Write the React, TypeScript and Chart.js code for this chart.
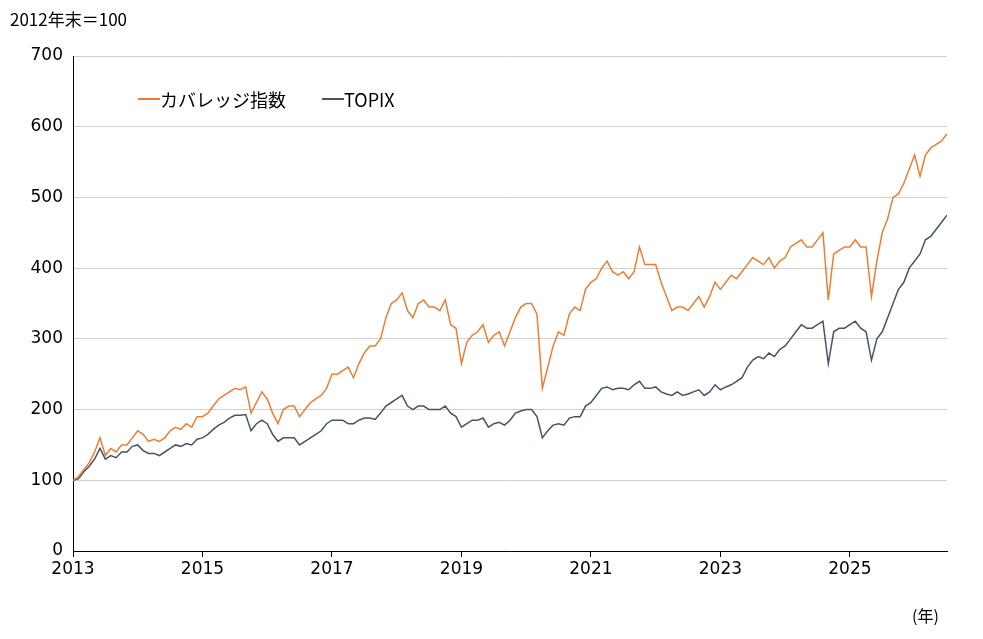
import React, { useEffect, useRef } from "react";
import { Chart, registerables } from "chart.js";
Chart.register(...registerables);

const leverage = [
105,115,125,140,160,135,145,140,150,150,160,170,
165,155,158,155,160,170,175,172,180,175,190,190,
195,205,215,220,225,230,228,232,195,210,225,215,
195,180,200,205,205,190,200,210,215,220,230,250,
250,255,260,245,265,280,290,290,300,330,350,355,
365,340,330,350,355,345,345,340,355,320,315,265,
295,305,310,320,295,305,310,290,310,330,345,350,
350,335,230,260,290,310,305,335,345,340,370,380,
385,400,410,395,390,395,385,395,430,405,405,405,
380,360,340,345,345,340,350,360,345,360,380,370,
380,390,385,395,405,415,410,405,415,400,410,415,
430,435,440,430,430,440,450,355,420,425,430,430,
440,430,430,360,410,450,470,500,505,520,540,560,
530,560,570,575,580,590];
const topix = [
102,112,120,130,145,130,135,132,140,140,148,150,
142,138,138,135,140,145,150,148,152,150,158,160,
165,172,178,182,188,192,192,193,170,180,185,180,
165,155,160,160,160,150,155,160,165,170,180,185,
185,185,180,180,185,188,188,186,195,205,210,215,
220,205,200,205,205,200,200,200,205,195,190,175,
180,185,185,188,175,180,182,178,185,195,198,200,
200,190,160,170,178,180,178,188,190,190,205,210,
220,230,232,228,230,230,228,235,240,230,230,232,
225,222,220,225,220,222,225,228,220,225,235,228,
232,235,240,245,260,270,275,272,280,275,285,290,
300,310,320,315,315,320,325,265,310,315,315,320,
325,315,310,270,300,310,330,350,370,380,400,410,
420,440,445,455,465,475];
const startYear = 2013;
const toPts = (arr: number[]) => [{ x: startYear, y: 100 }, ...arr.map((v, i) => ({ x: startYear + (i + 1) / 12, y: v }))];

const FONT = "'DejaVu Sans', Verdana, sans-serif";

export default function App() {
  const ref = useRef<HTMLCanvasElement>(null);
  useEffect(() => {
    const c = new Chart(ref.current!, {
      type: "line",
      data: {
        datasets: [
          { label: "カバレッジ指数", data: toPts(leverage), borderColor: "#ED7D31", borderWidth: 1.5, pointRadius: 0, tension: 0 },
          { label: "TOPIX", data: toPts(topix), borderColor: "#44546A", borderWidth: 1.5, pointRadius: 0, tension: 0 },
        ],
      },
      options: {
        animation: false,
        responsive: false,
        layout: { padding: { top: 56, right: 36, left: 0, bottom: 0 } },
        plugins: { legend: { display: false }, tooltip: { enabled: false } },
        scales: {
          x: {
            type: "linear", min: 2013, max: 2026.5,
            afterFit: (s: any) => { s.height = 88; },
            afterBuildTicks: (s: any) => { s.ticks = [2013,2015,2017,2019,2021,2023,2025].map(v => ({ value: v })); },
            ticks: { color: "#000", font: { family: FONT, size: 17 }, callback: (v: any) => String(v), padding: 2 },
            grid: { drawOnChartArea: false, tickLength: 6, color: "#000" },
            border: { color: "#000" },
          },
          y: {
            min: 0, max: 700,
            afterFit: (s: any) => { s.width = 73; },
            ticks: { stepSize: 100, color: "#000", font: { family: FONT, size: 17 }, padding: 10 },
            grid: { color: "#d0d0d0", tickLength: 6, drawTicks: false },
            border: { color: "#000" },
          },
        },
      },
    });
    return () => c.destroy();
  }, []);
  const txt: React.CSSProperties = { position: "absolute", fontFamily: "'Noto Sans CJK JP', " + FONT, color: "#000" };
  return (
    <div style={{ position: "fixed", left: 0, top: 0, width: 983, height: 639, background: "#fff" }}>
      <canvas ref={ref} width={983} height={639} />
      <div style={{ ...txt, left: 10, top: 6, fontSize: 17 }}>2012年末＝100</div>
      <div style={{ ...txt, left: 912, top: 603, fontSize: 16 }}>(年)</div>
      <div style={{ ...txt, left: 138, top: 86, fontSize: 18, display: "flex", alignItems: "center" }}>
        <span style={{ display: "inline-block", width: 22, height: 2, background: "#ED7D31" }} />
        <span>カバレッジ指数</span>
        <span style={{ display: "inline-block", width: 22, height: 2, background: "#44546A", marginLeft: 36 }} />
        <span>TOPIX</span>
      </div>
    </div>
  );
}
